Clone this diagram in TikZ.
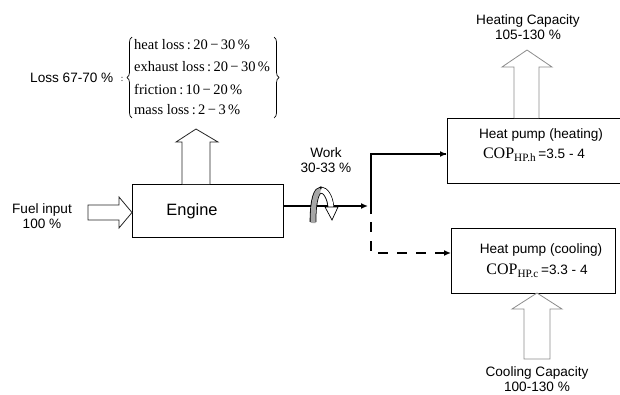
\documentclass[tikz,border=0pt]{standalone}
\usepackage{fontspec}
\setmainfont{Liberation Sans}
\newfontfamily\tms{Liberation Serif}
\usetikzlibrary{arrows.meta,decorations.pathreplacing}
\begin{document}
\begin{tikzpicture}[x=1pt,y=-1pt,
  lbl/.style={font=\fontsize{13.6}{15}\selectfont, align=center, inner sep=0pt},
  box/.style={draw=black, line width=0.8pt},
  blockarrow/.style={draw=black!85, line width=0.8pt, fill=white},
  grayarrow/.style={draw=black!45, line width=0.8pt, fill=white},
  flow/.style={line width=2pt, -{Latex[length=7pt,width=6pt]}},
  losstxt/.style={font=\tms\fontsize{14.5}{16}\selectfont, anchor=west, inner sep=0pt},
  coptxt/.style={font=\fontsize{13.6}{15}\selectfont, inner sep=0pt}
]
\useasboundingbox (0,0) rectangle (620,394);

% boxes
\draw[box] (132,184) rectangle (283,237);
\node[coordinate] (engE) at (283,206) {};
\node (eng) [font=\fontsize{16.4}{18}\selectfont, inner sep=0pt] at (192,211) {Engine};
\draw[box] (622,118) -- (447,118) -- (447,183) -- (622,183);
\node[coordinate] (hphW) at (447,154) {};
\draw[box] (451,228) rectangle (615,293);
\node[coordinate] (hpcW) at (451,253) {};

\node (hph) [lbl] at (541,135) {Heat pump (heating)};
\node (coph) [coptxt] at (534,155) {{\tms\fontsize{16}{18}\selectfont COP\textsubscript{HP.h}}\,=3.5 - 4};
\node (hpc) [lbl] at (541,250) {Heat pump (cooling)};
\node (copc) [coptxt] at (537,271) {{\tms\fontsize{16}{18}\selectfont COP\textsubscript{HP.c}}\,=3.3 - 4};

% fuel input
\node (fuel) [lbl] at (42,216) {Fuel input\\100 \%};
\draw[blockarrow] (88,205) -- (119,205) -- (119,197) -- (132,212.5) -- (119,228) -- (119,220) -- (88,220) -- cycle;

% loss arrow
\draw[blockarrow] (182,184) -- (182,142) -- (176,142) -- (196,129) -- (218,142) -- (210,142) -- (210,184);

% loss text
\node (loss) [lbl, anchor=west] at (30,78) {Loss 67-70 \%};
\node (colon) [font=\tms\fontsize{9}{10}\selectfont, inner sep=0pt] at (122,79) {:};
\draw[line width=0.7pt, decorate, decoration={brace, amplitude=5pt}] (132,118) -- (132,37);
\draw[line width=0.7pt, decorate, decoration={brace, amplitude=5pt}] (274,37) -- (274,118);
\node (l1) [losstxt] at (134,45) {heat loss\,:\,20\,−\,30\,\%};
\node (l2) [losstxt] at (134,67) {exhaust loss\,:\,20\,−\,30\,\%};
\node (l3) [losstxt] at (134,89) {friction\,:\,10\,−\,20\,\%};
\node (l4) [losstxt] at (134,110) {mass loss\,:\,2\,−\,3\,\%};

% work
\node (work) [lbl] at (326,160) {Work\\30-33 \%};
\coordinate (split) at (371,214);
\draw[flow] (engE) -- ([xshift=-3pt]split |- engE);
\draw[line width=2.5pt] (split) |- ([xshift=-1pt]hphW);
\draw[flow, -{Latex[length=7pt,width=6pt]}] ([xshift=-8pt]hphW) -- (hphW);
\draw[line width=2.5pt, dash pattern=on 10pt off 9pt] ([yshift=11pt]split) |- ([xshift=-8pt]hpcW);
\draw[line width=2pt, -{Latex[length=7pt,width=6pt]}] ([xshift=-9pt]hpcW) -- (hpcW);

% rotation symbol
\draw[line width=6.6pt, black] (313,222) .. controls (313,198) and (317,190) .. (321,190) .. controls (325,190) and (330,196) .. (331,208);
\draw[line width=5pt, black!35] (313,223) .. controls (313,198) and (317,190) .. (321,190);
\draw[line width=5pt, white] (321,190) .. controls (325,190) and (330,196) .. (331,207);
\draw[line width=0.7pt, fill=white] (325,207) -- (338,207) -- (332,220) -- cycle;

% heating capacity
\node (hcap) [lbl] at (528,27) {Heating Capacity\\105-130 \%};
\draw[grayarrow] (514,118) -- (514,67) -- (502,67) -- (527,50) -- (552,67) -- (539,67) -- (539,118);

% cooling capacity
\node (ccap) [lbl] at (537,379) {Cooling Capacity\\100-130 \%};
\draw[grayarrow] (524,359) -- (524,309) -- (512,309) -- (537,293) -- (562,309) -- (550,309) -- (550,359) -- cycle;
\end{tikzpicture}
\end{document}
